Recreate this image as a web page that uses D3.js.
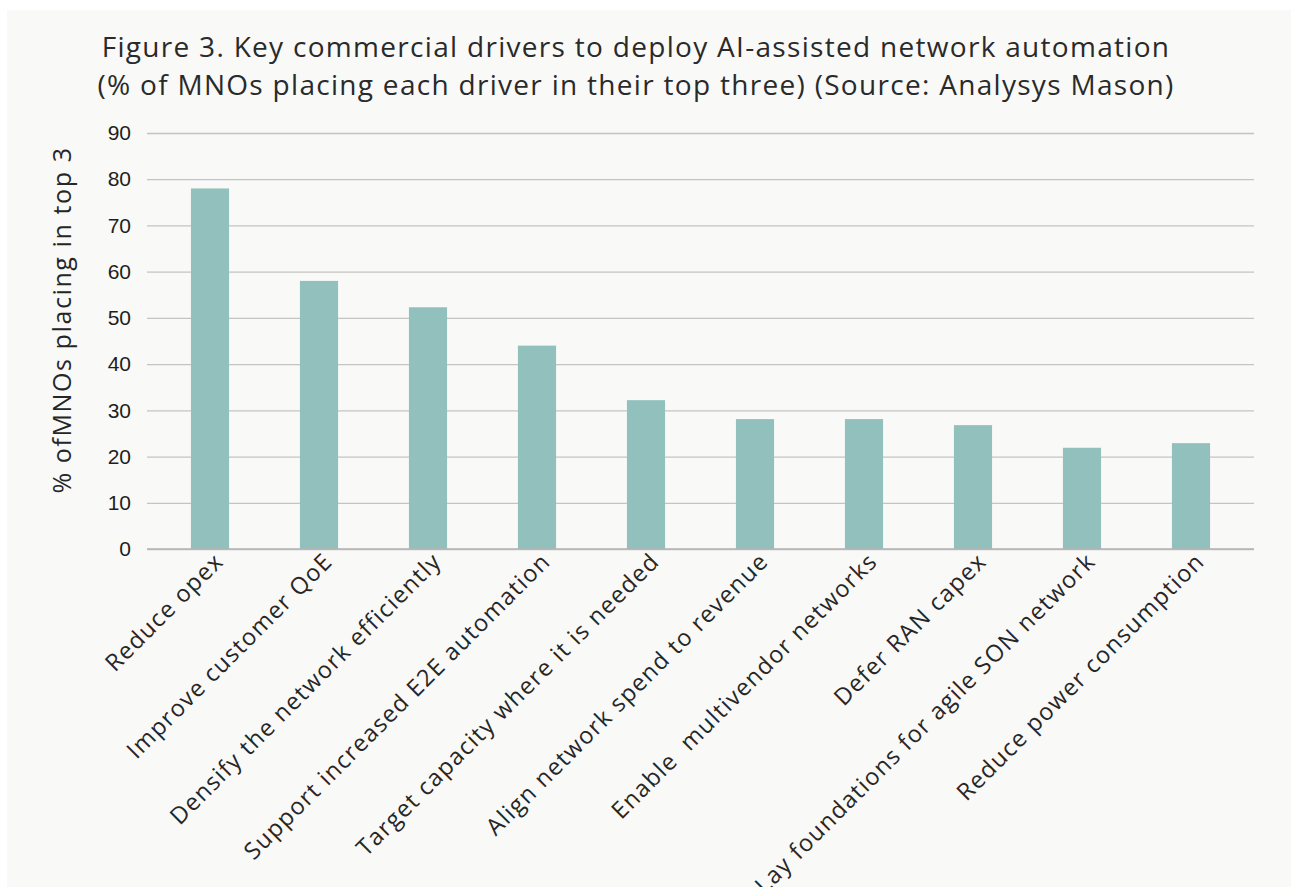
<!DOCTYPE html>
<html>
<head>
<meta charset="utf-8">
<script src="https://cdn.jsdelivr.net/npm/d3@7"></script>
<style>
  body { margin: 0; background: #fff; }
  svg { display: block; }
</style>
</head>
<body>
<script>
// key drivers, % of MNOs placing each in top three
const drivers = [
  'Reduce opex',
  'Improve customer QoE',
  'Densify the network efficiently',
  'Support increased E2E automation',
  'Target capacity where it is needed',
  'Align network spend to revenue',
  'Enable  multivendor networks',
  'Defer RAN capex',
  'Lay foundations for agile SON network',
  'Reduce power consumption'
];
const shares = [78, 58, 52.3, 44, 32.2, 28.1, 28.1, 26.8, 21.9, 22.9];
const yTicks = [0, 10, 20, 30, 40, 50, 60, 70, 80, 90];
const titleLines = [
  'Figure 3. Key commercial drivers to deploy AI-assisted network automation',
  '(% of MNOs placing each driver in their top three) (Source: Analysys Mason)'
];
const yTitle = '% ofMNOs placing in top 3';

const width = 1291, height = 887;
const plot = { left: 147, right: 1254, top: 133, bottom: 549 };
const barColor = '#91c0bd';
const labelFont = '"Open Sans", Lato, sans-serif';

const svg = d3.select('body')
  .append('svg')
  .attr('width', width)
  .attr('height', height);

svg.append('rect')
  .attr('x', 7)
  .attr('y', 10)
  .attr('width', width - 7)
  .attr('height', height - 10)
  .attr('fill', '#f9f9f8');

const y = d3.scaleLinear()
  .domain([0, 90])
  .range([plot.bottom, plot.top]);

const x = d3.scaleBand()
  .domain(drivers)
  .range([155.5, 1245.5])
  .paddingInner(0.65)
  .paddingOuter(0.325);

// gridlines + tick labels
const yAxis = svg.append('g')
  .attr('transform', 'translate(' + plot.left + ',0)')
  .call(d3.axisLeft(y)
    .tickValues(yTicks)
    .tickSize(-(plot.right - plot.left))
    .tickPadding(16));
yAxis.select('.domain').remove();
yAxis.selectAll('line')
  .attr('stroke', '#c4c4c4')
  .attr('stroke-width', 1.3);
yAxis.selectAll('text')
  .attr('fill', '#1e1e1e')
  .style('font-family', '"Liberation Sans", Arial, sans-serif')
  .style('font-size', '21px');

svg.append('g')
  .selectAll('rect')
  .data(shares)
  .join('rect')
  .attr('x', (d, i) => x(drivers[i]))
  .attr('y', d => y(d))
  .attr('width', x.bandwidth())
  .attr('height', d => y(0) - y(d))
  .attr('fill', barColor);

// baseline on top of bars
svg.append('line')
  .attr('x1', plot.left)
  .attr('x2', plot.right)
  .attr('y1', y(0))
  .attr('y2', y(0))
  .attr('stroke', '#b4b4b4')
  .attr('stroke-width', 1.3);

// rotated category labels
svg.append('g')
  .selectAll('text')
  .data(drivers)
  .join('text')
  .attr('transform', d => 'translate(' + [x(d) + x.bandwidth() / 2 + 9, 557] + ') rotate(-45)')
  .attr('text-anchor', 'end')
  .attr('dy', '0.35em')
  .attr('fill', '#262626')
  .style('font-family', labelFont)
  .style('font-size', '23.5px')
  .style('letter-spacing', '1.3px')
  .style('white-space', 'pre')
  .text(d => d);

svg.append('text')
  .attr('transform', 'translate(71,' + 320 + ') rotate(-90)')
  .attr('text-anchor', 'middle')
  .attr('fill', '#262626')
  .style('font-family', labelFont)
  .style('font-size', '25px')
  .style('letter-spacing', '1.6px')
  .text(yTitle);

svg.append('g')
  .selectAll('text')
  .data(titleLines)
  .join('text')
  .attr('x', 636)
  .attr('y', (d, i) => 57 + i * 38)
  .attr('text-anchor', 'middle')
  .attr('fill', '#2a2a2a')
  .style('font-family', labelFont)
  .style('font-size', '28px')
  .style('letter-spacing', '1.3px')
  .text(d => d);
</script>
</body>
</html>
